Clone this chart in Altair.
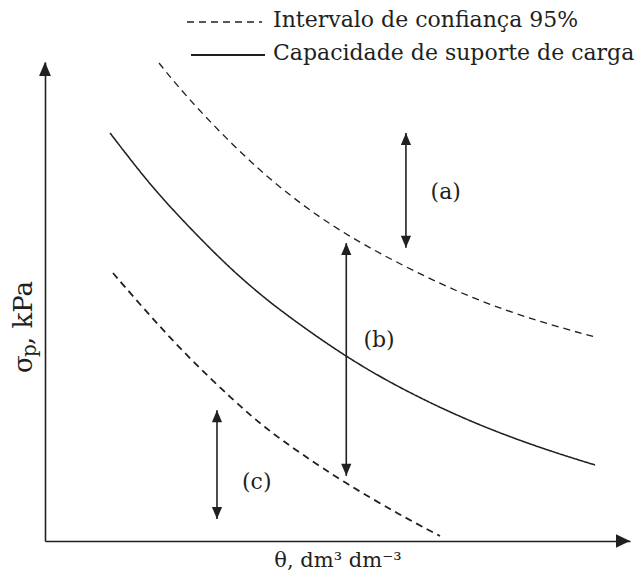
import altair as alt
import pandas as pd

# Curve samples on relative axes (0–100 for θ and σp)
upper_theta = [19.49, 23.59, 32.14, 40.68, 50.43, 61.88, 73.16, 84.62, 94.02]
upper_sigma = [99.79, 93.53, 82.46, 73.07, 64.51, 56.99, 50.52, 45.72, 42.59]
mean_theta = [11.11, 16.24, 20.85, 29.40, 35.04, 40.51, 51.62, 61.88, 73.16, 84.62, 94.02]
mean_sigma = [85.18, 77.04, 70.35, 59.50, 53.24, 47.81, 38.20, 31.11, 24.63, 19.42, 15.87]
lower_theta = [11.62, 17.95, 24.79, 32.14, 37.61, 43.59, 51.28, 60.68, 67.52]
lower_sigma = [55.95, 46.97, 37.99, 29.44, 23.59, 18.37, 12.11, 5.43, 1.04]

# Double-headed arrows and their labels
arrow_labels = ["(a)", "(b)", "(c)"]
arrow_theta = [61.7, 51.5, 29.4]
arrow_top = [85.2, 62.2, 27.3]
arrow_bottom = [61.2, 13.6, 4.6]
label_theta = [68.5, 57.1, 36.2]
label_sigma = [72.9, 42.0, 12.3]

legend_labels = ["Intervalo de confiança 95%", "Capacidade de suporte de carga"]
axis_end_theta = [0, 100]
axis_end_sigma = [100, 0]

INK = "#231f20"
FONT = "DejaVu Serif"
FS = 22

curves = pd.concat([
    pd.DataFrame({"theta": upper_theta, "sigma": upper_sigma, "series": "upper", "order": range(len(upper_theta))}),
    pd.DataFrame({"theta": mean_theta, "sigma": mean_sigma, "series": "mean", "order": range(len(mean_theta))}),
    pd.DataFrame({"theta": lower_theta, "sigma": lower_sigma, "series": "lower", "order": range(len(lower_theta))}),
])
arrows = pd.DataFrame({"theta": arrow_theta, "sigma": arrow_top, "sigma2": arrow_bottom})
labels = pd.DataFrame({"theta": label_theta, "sigma": label_sigma, "label": arrow_labels})
ends_top = pd.DataFrame({"theta": [axis_end_theta[0]], "sigma": [axis_end_sigma[0]]})
ends_right = pd.DataFrame({"theta": [axis_end_theta[1]], "sigma": [axis_end_sigma[1]]})

xs = alt.Scale(domain=[0, 100], nice=False, zero=False)
ys = alt.Scale(domain=[0, 100], nice=False, zero=False)
x_axis = alt.Axis(title="θ, dm³ dm⁻³", ticks=False, labels=False, grid=False,
                  domainColor=INK, domainWidth=1.6, titleFont=FONT, titleFontSize=21,
                  titleFontWeight="normal", titleColor=INK, titlePadding=8)
y_axis = alt.Axis(title="", ticks=False, labels=False, grid=False,
                  domainColor=INK, domainWidth=1.6)
X = alt.X("theta:Q", scale=xs, axis=x_axis)
Y = alt.Y("sigma:Q", scale=ys, axis=y_axis)

lines = alt.Chart(curves).mark_line(color=INK, interpolate="basis").encode(
    x=X, y=Y, order="order:Q",
    detail="series:N",
    strokeDash=alt.StrokeDash("series:N", scale=alt.Scale(domain=["upper", "mean", "lower"],
                                                          range=[[7, 5], [1, 0], [7, 5]]), legend=None),
    strokeWidth=alt.StrokeWidth("series:N", scale=alt.Scale(domain=["upper", "mean", "lower"],
                                                            range=[1.3, 1.8, 1.3]), legend=None),
)

shaft = alt.Chart(arrows).mark_rule(color=INK, strokeWidth=1.6).encode(
    x=X, y=Y, y2="sigma2:Q")

UP = "M0,0 L0.85,2 L-0.85,2 Z"
DOWN = "M0,0 L0.85,-2 L-0.85,-2 Z"
RIGHT = "M0,0 L-2,-0.95 L-2,0.95 Z"

head_up = alt.Chart(arrows).mark_point(shape=UP, filled=True, size=144, color=INK, opacity=1).encode(x=X, y=Y)
head_down = alt.Chart(arrows).mark_point(shape=DOWN, filled=True, size=144, color=INK, opacity=1).encode(
    x=X, y=alt.Y("sigma2:Q", scale=ys, axis=y_axis))

axis_up = alt.Chart(ends_top).mark_point(shape=UP, filled=True, size=196, color=INK, opacity=1).encode(x=X, y=Y)
axis_right = alt.Chart(ends_right).mark_point(shape=RIGHT, filled=True, size=196, color=INK, opacity=1).encode(x=X, y=Y)

tags = alt.Chart(labels).mark_text(font=FONT, fontSize=FS, color=INK, align="center", baseline="middle").encode(
    x=X, y=Y, text="label:N")

# y-axis title: σ with subscript p, rotated
YT = 26
yt_sigma = alt.Chart(ends_top).mark_text(text="σ", font=FONT, fontSize=YT, color=INK, angle=270,
                                         align="left", baseline="alphabetic").encode(
    x=alt.value(-13), y=alt.value(311))
yt_p = alt.Chart(ends_top).mark_text(text="p", font=FONT, fontSize=YT - 6, color=INK, angle=270,
                                     align="left", baseline="alphabetic").encode(
    x=alt.value(-9), y=alt.value(295))
yt_rest = alt.Chart(ends_top).mark_text(text=", kPa", font=FONT, fontSize=YT, color=INK, angle=270,
                                        align="left", baseline="alphabetic").encode(
    x=alt.value(-13), y=alt.value(283))

# Legend (drawn above the plot area)
leg_dash = alt.Chart(ends_top).mark_rule(color=INK, strokeWidth=1.3, strokeDash=[7, 5]).encode(
    x=alt.value(142), x2=alt.value(217), y=alt.value(-40))
leg_solid = alt.Chart(ends_top).mark_rule(color=INK, strokeWidth=1.8).encode(
    x=alt.value(146), x2=alt.value(220), y=alt.value(-7))
leg_t1 = alt.Chart(ends_top).mark_text(text=legend_labels[0], font=FONT, fontSize=FS, color=INK,
                                       align="left", baseline="middle").encode(
    x=alt.value(228), y=alt.value(-42))
leg_t2 = alt.Chart(ends_top).mark_text(text=legend_labels[1], font=FONT, fontSize=FS, color=INK,
                                       align="left", baseline="middle").encode(
    x=alt.value(228), y=alt.value(-9))

chart = alt.layer(
    lines, shaft, head_up, head_down, axis_up, axis_right, tags,
    yt_sigma, yt_p, yt_rest, leg_dash, leg_solid, leg_t1, leg_t2
).properties(
    width=585, height=479,
    autosize=alt.AutoSizeParams(type="none"),
    padding={"left": 45, "top": 62, "right": 5, "bottom": 34},
    background="white",
).configure_view(stroke=None)

chart.save("out.html", embed_options={"renderer": "svg", "actions": False})
